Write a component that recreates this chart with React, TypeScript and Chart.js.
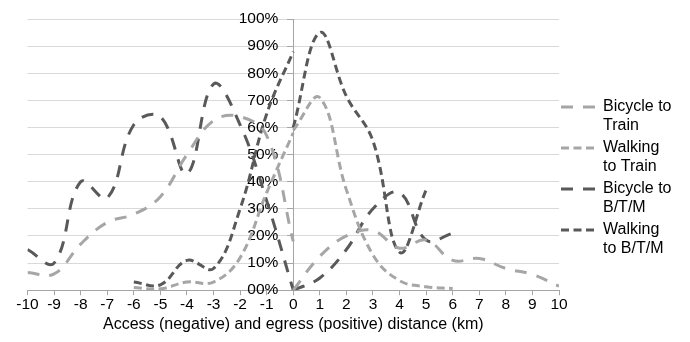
import React, { useEffect, useRef } from 'react';
import { Chart, registerables } from 'chart.js';

Chart.register(...registerables);

// distances (km): negative = access, positive = egress
const accessKmLong = [-10, -9, -8, -7, -6, -5, -4, -3, -2, -1, 0];
const accessKmShort = [-6, -5, -4, -3, -2, -1, 0];
const egressKmLong = [0, 1, 2, 3, 4, 5, 6, 7, 8, 9, 10];
const egressKmMid = [0, 1, 2, 3, 4, 5, 6];
const egressKmShort = [0, 1, 2, 3, 4, 5];

// shares (%)
const bicycleTrainAccess = [6.5, 6, 17, 25, 28, 34.5, 50, 62.5, 64, 57, 18];
const bicycleTrainEgress = [0, 12.5, 20, 22, 15.5, 18.5, 11, 11.7, 8, 5.8, 1.5];
const walkingTrainAccess = [1, 0.5, 3, 3, 12, 36, 58];
const walkingTrainEgress = [59, 71, 37, 13, 3.5, 1.3, 0.6];
const bicycleBtmAccess = [15, 10, 40, 34, 61, 64, 43, 76, 61, 33, 0];
const bicycleBtmEgress = [0, 4.5, 15, 30, 36, 18.5, 21];
const walkingBtmAccess = [3, 2, 11, 8, 30, 65, 88];
const walkingBtmEgress = [60, 95, 71.5, 55, 14, 37];

const seriesLabels = [
  ['Bicycle to', 'Train'],
  ['Walking', 'to Train'],
  ['Bicycle to', 'B/T/M'],
  ['Walking', 'to B/T/M'],
];
const yTickLabels = ['00%', '10%', '20%', '30%', '40%', '50%', '60%', '70%', '80%', '90%', '100%'];
const xTitle = 'Access (negative) and egress (positive) distance (km)';

const FONT = '"Liberation Sans", Arial, sans-serif';
const LIGHT = '#a6a6a6';
const DARK = '#595959';
const LONG_DASH = [12, 10];
const SHORT_DASH = [8, 4.5];

const series = [
  { color: LIGHT, dash: LONG_DASH, parts: [[accessKmLong, bicycleTrainAccess], [egressKmLong, bicycleTrainEgress]] },
  { color: LIGHT, dash: SHORT_DASH, parts: [[accessKmShort, walkingTrainAccess], [egressKmMid, walkingTrainEgress]] },
  { color: DARK, dash: LONG_DASH, parts: [[accessKmLong, bicycleBtmAccess], [egressKmMid, bicycleBtmEgress]] },
  { color: DARK, dash: SHORT_DASH, parts: [[accessKmShort, walkingBtmAccess], [egressKmShort, walkingBtmEgress]] },
];

const sideLegend = {
  id: 'sideLegend',
  afterDraw(chart: any) {
    const ctx = chart.ctx;
    const x0 = chart.chartArea.right + 2;
    ctx.save();
    series.forEach((s, i) => {
      const y = 107 + i * 41;
      ctx.setLineDash(s.dash);
      ctx.strokeStyle = s.color;
      ctx.lineWidth = 3;
      ctx.beginPath();
      ctx.moveTo(x0, y);
      ctx.lineTo(x0 + 34, y);
      ctx.stroke();
      ctx.setLineDash([]);
      ctx.fillStyle = '#000';
      ctx.font = `16px ${FONT}`;
      ctx.textBaseline = 'middle';
      ctx.textAlign = 'left';
      seriesLabels[i].forEach((t, j) => ctx.fillText(t, x0 + 42, y + j * 18.5));
    });
    ctx.restore();
  },
};

export default function App() {
  const ref = useRef<HTMLCanvasElement | null>(null);

  useEffect(() => {
    if (!ref.current) return;
    const datasets: any[] = [];
    series.forEach((s, i) => {
      s.parts.forEach(([xs, ys], k) => {
        datasets.push({
          label: seriesLabels[i].join(' ') + (k === 0 ? ' (access)' : ' (egress)'),
          data: xs.map((x, j) => ({ x, y: ys[j] })),
          borderColor: s.color,
          borderDash: s.dash,
          borderWidth: 3,
          borderCapStyle: 'butt',
          pointRadius: 0,
          pointHoverRadius: 0,
          fill: false,
          tension: 0.4,
          yAxisID: 'y',
        });
      });
    });

    const chart = new Chart(ref.current, {
      type: 'line',
      data: { datasets },
      options: {
        animation: false,
        responsive: false,
        layout: { padding: { left: 27.5, right: 131, top: 19, bottom: 8 } },
        plugins: { legend: { display: false }, tooltip: { enabled: false } },
        scales: {
          x: {
            type: 'linear',
            min: -10,
            max: 10,
            ticks: {
              stepSize: 1,
              autoSkip: false,
              maxRotation: 0,
              color: '#000',
              padding: 0,
              font: { size: 15.5, family: FONT },
            },
            grid: { drawOnChartArea: false, drawTicks: true, tickLength: 5, color: LIGHT },
            border: { display: true, color: LIGHT, width: 1 },
            title: {
              display: true,
              text: xTitle,
              color: '#000',
              font: { size: 16, family: FONT },
              padding: { top: 1, bottom: 0 },
            },
          },
          // labels of the percentage axis, set just left of the zero line
          y: {
            type: 'linear',
            min: 0,
            max: 100,
            position: { x: -0.56 } as any,
            ticks: {
              stepSize: 10,
              color: '#000',
              font: { size: 15.5, family: FONT },
              callback: (v: any) => yTickLabels[Math.round(Number(v) / 10)],
            },
            grid: { color: '#d9d9d9', drawTicks: false, lineWidth: 1 },
            border: { display: false },
          },
          // the zero line itself with its tick marks
          y2: {
            type: 'linear',
            min: 0,
            max: 100,
            position: { x: 0 } as any,
            ticks: { stepSize: 10, display: false },
            grid: { drawOnChartArea: false, drawTicks: true, tickLength: 6, tickColor: LIGHT, color: LIGHT },
            border: { display: true, color: LIGHT, width: 1 },
          },
        },
      },
      plugins: [sideLegend],
    } as any);

    return () => chart.destroy();
  }, []);

  return (
    <div style={{ position: 'fixed', left: 0, top: 0, width: 690, height: 342, background: '#fff' }}>
      <canvas ref={ref} width={690} height={342} style={{ display: 'block' }} />
    </div>
  );
}
